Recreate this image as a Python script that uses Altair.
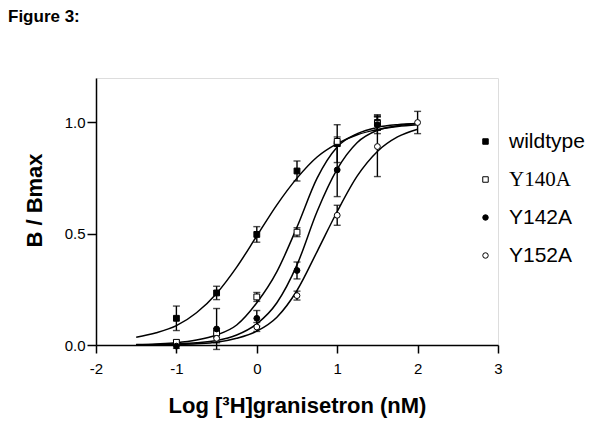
import altair as alt
import pandas as pd

# ---- data ----
series_names = ["wildtype", "Y140A", "Y142A", "Y152A"]
series_shapes = ["square", "square", "circle", "circle"]
series_fills = ["black", "white", "black", "white"]

# fitted curves
curve_x = [-1.5, -1.25, -1.0, -0.75, -0.5, -0.25, 0.0, 0.25, 0.5, 0.75, 1.0, 1.25, 1.5, 1.75, 2.0]
wt_curve = [0.035, 0.055, 0.087, 0.145, 0.232, 0.35, 0.49, 0.63, 0.75, 0.845, 0.905, 0.945, 0.968, 0.982, 0.99]
y140_curve = [0.002, 0.005, 0.01, 0.022, 0.045, 0.09, 0.19, 0.33, 0.53, 0.75, 0.89, 0.95, 0.978, 0.99, 0.995]
y142_curve = [0.001, 0.002, 0.005, 0.01, 0.02, 0.045, 0.095, 0.19, 0.36, 0.60, 0.79, 0.91, 0.965, 0.985, 0.995]
y152_curve = [0.001, 0.001, 0.003, 0.006, 0.012, 0.03, 0.062, 0.125, 0.245, 0.42, 0.60, 0.76, 0.87, 0.935, 0.97]

# measured points with error (SEM)
wt_x = [-1.0, -0.5, 0.0, 0.5, 1.0, 1.5]
wt_y = [0.12, 0.234, 0.497, 0.782, 0.905, 1.0]
wt_err = [0.055, 0.03, 0.035, 0.045, 0.085, 0.035]

y140_x = [-1.0, -0.5, 0.0, 0.5, 1.0, 1.5]
y140_y = [0.012, 0.054, 0.216, 0.507, 0.915, 0.995]
y140_err = [0.01, 0.02, 0.02, 0.02, 0.02, 0.03]

y142_x = [-1.0, -0.5, 0.0, 0.5, 1.0, 1.5]
y142_y = [-0.005, 0.072, 0.12, 0.335, 0.787, 0.99]
y142_err = [0.01, 0.092, 0.035, 0.038, 0.12, 0.04]

y152_x = [-0.5, 0.0, 0.5, 1.0, 1.5, 2.0]
y152_y = [0.03, 0.081, 0.222, 0.583, 0.892, 1.0]
y152_err = [0.02, 0.02, 0.02, 0.045, 0.135, 0.05]

x_ticks = [-2, -1, 0, 1, 2, 3]
y_ticks = [0.0, 0.5, 1.0]
fig_label = ["Figure 3:"]

# ---- tables ----
curves = pd.concat([
    pd.DataFrame({"x": curve_x, "y": c, "series": s})
    for s, c in zip(series_names, [wt_curve, y140_curve, y142_curve, y152_curve])
])
pts = pd.concat([
    pd.DataFrame({"x": xs, "y": ys, "err": es, "series": s})
    for s, xs, ys, es in zip(
        series_names,
        [wt_x, y140_x, y142_x, y152_x],
        [wt_y, y140_y, y142_y, y152_y],
        [wt_err, y140_err, y142_err, y152_err],
    )
])
pts["lo"] = pts["y"] - pts["err"]
pts["hi"] = pts["y"] + pts["err"]

FONT = "Liberation Sans"

xscale = alt.Scale(domain=[-2, 3], nice=False, zero=False)
yscale = alt.Scale(domain=[0, 1.2], nice=False, zero=False)

xaxis = alt.Axis(
    values=x_ticks, labelExpr="'' + datum.value", title="Log [³H]granisetron (nM)", grid=False,
    domainColor="black", domainWidth=1.5, tickColor="black", tickWidth=1.5, tickSize=8,
    labelFont=FONT, labelFontSize=15, labelColor="black", labelPadding=8,
    titleFont=FONT, titleFontSize=22, titleFontWeight="bold", titleColor="black",
    titleY=50, labelFlush=False,
)
yaxis = alt.Axis(
    values=y_ticks, format=".1f", title="B / Bmax", grid=False,
    domainColor="black", domainWidth=1.5, tickColor="black", tickWidth=1.5, tickSize=9,
    labelFont=FONT, labelFontSize=15, labelColor="black", labelPadding=2,
    titleFont=FONT, titleFontSize=22, titleFontWeight="bold", titleColor="black",
    titleX=-50, titleY=122,
)

X = alt.X("x:Q", scale=xscale, axis=xaxis)

legend = alt.Legend(
    title=None, orient="none", legendX=379, legendY=53, padding=0,
    symbolSize=30, symbolStrokeWidth=1,
    labelFont=alt.ExprRef(expr="datum.label == 'Y140A' ? 'Liberation Serif' : 'Liberation Sans'"),
    labelFontSize=21, labelColor="black", labelOffset=13, rowPadding=16,
)

lines = alt.Chart(curves).mark_line(color="black", strokeWidth=1.5, interpolate="monotone").encode(
    x=X,
    y=alt.Y("y:Q", scale=yscale, axis=yaxis),
    detail="series:N",
)

bars = alt.Chart(pts).mark_rule(color="black", strokeWidth=1.4).encode(
    x=X,
    y=alt.Y("lo:Q", scale=yscale, axis=yaxis),
    y2="hi:Q",
)
cap_lo = alt.Chart(pts).mark_tick(color="black", orient="horizontal", size=7, thickness=1.4).encode(
    x=X, y=alt.Y("lo:Q", scale=yscale, axis=yaxis)
)
cap_hi = alt.Chart(pts).mark_tick(color="black", orient="horizontal", size=7, thickness=1.4).encode(
    x=X, y=alt.Y("hi:Q", scale=yscale, axis=yaxis)
)

points = alt.Chart(pts).mark_point(filled=True, strokeWidth=1, size=34, opacity=1).encode(
    x=X,
    y=alt.Y("y:Q", scale=yscale, axis=yaxis),
    shape=alt.Shape("series:N", scale=alt.Scale(domain=series_names, range=series_shapes), legend=legend),
    fill=alt.Fill("series:N", scale=alt.Scale(domain=series_names, range=series_fills), legend=legend),
    stroke=alt.Stroke("series:N", scale=alt.Scale(domain=series_names, range=["black"] * 4), legend=legend),
)

label = alt.Chart(pd.DataFrame({"t": fig_label})).mark_text(
    font=FONT, fontSize=17, fontWeight="bold", color="black", align="left", baseline="alphabetic"
).encode(text="t:N", x=alt.value(-88), y=alt.value(-56))

chart = alt.layer(lines, bars, cap_lo, cap_hi, points, label).properties(
    width=402, height=267,
    padding={"left": 88, "top": 70, "right": 94, "bottom": 75},
    autosize=alt.AutoSizeParams(type="none"),
).configure_view(stroke=None).configure(background="white")

chart.save("out.html", embed_options={"renderer": "svg", "actions": False})
